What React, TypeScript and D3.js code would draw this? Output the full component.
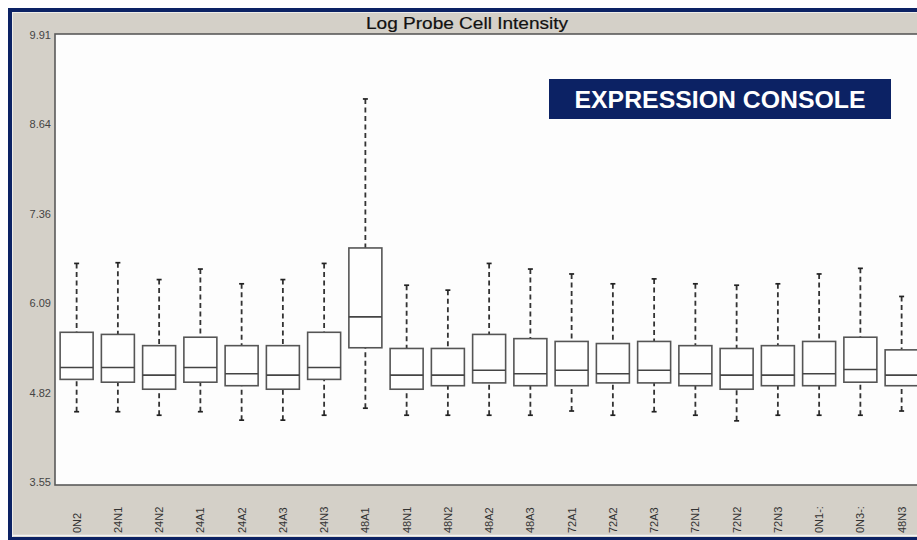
import React from 'react';
import * as d3 from 'd3';

const categories = ["0N2","24N1","24N2","24A1","24A2","24A3","24N3","48A1","48N1","48N2","48A2","48A3","72A1","72A2","72A3","72N1","72N2","72N3","0N1-:","0N3-:","48N3"];
const whiskerHigh = [6.66,6.67,6.43,6.58,6.37,6.43,6.66,9.00,6.35,6.28,6.66,6.58,6.51,6.37,6.44,6.37,6.35,6.37,6.51,6.59,6.19];
const q3 = [5.68,5.65,5.49,5.61,5.49,5.49,5.68,6.88,5.45,5.45,5.65,5.59,5.55,5.52,5.55,5.49,5.45,5.49,5.55,5.61,5.43];
const median = [5.18,5.18,5.07,5.18,5.09,5.07,5.18,5.90,5.07,5.07,5.14,5.09,5.14,5.09,5.14,5.09,5.07,5.07,5.09,5.15,5.07];
const q1 = [5.01,4.97,4.87,4.97,4.92,4.87,5.01,5.46,4.87,4.92,4.96,4.92,4.92,4.96,4.96,4.92,4.87,4.92,4.92,4.97,4.92];
const whiskerLow = [4.55,4.55,4.50,4.55,4.43,4.43,4.50,4.60,4.50,4.50,4.50,4.50,4.56,4.50,4.55,4.50,4.42,4.50,4.50,4.50,4.56];
const yTickValues = [9.91, 8.64, 7.36, 6.09, 4.82, 3.55];
const yTickLabels = ["9.91", "8.64", "7.36", "6.09", "4.82", "3.55"];
const title = "Log Probe Cell Intensity";
const badge = "EXPRESSION CONSOLE";

const FONT = "Arial, 'Liberation Sans', sans-serif";

export default function App() {
  const W = 917, H = 540;
  const navy = "#0c2264";
  const gray = "#d4d0c8";
  const plotLeft = 55, plotTop = 34, plotBottom = 485, plotRight = 940;
  const y = d3.scaleLinear().domain([3.55, 9.91]).range([482, 35]);
  const x = d3.scaleBand<string>().domain(categories).range([56, 922.25]).paddingInner(0.2).paddingOuter(0.1);
  const bw = x.bandwidth();
  const capW = 5;

  return (
    <svg width={W} height={H} style={{ position: 'absolute', left: 0, top: 0, display: 'block' }} fontFamily={FONT}>
      <rect x={0} y={0} width={W} height={H} fill="#ffffff" />
      {/* window frame */}
      <rect x={8} y={8} width={W} height={H} fill={navy} />
      <rect x={12} y={12} width={W} height={525} fill={gray} />
      <line x1={12} y1={12.5} x2={W} y2={12.5} stroke="#eeece8" strokeWidth={1} />
      <line x1={12.5} y1={12} x2={12.5} y2={537} stroke="#eeece8" strokeWidth={1} />
      <line x1={12} y1={535.5} x2={W} y2={535.5} stroke="#f4f4f4" strokeWidth={1.5} />
      {/* title */}
      <text x={467} y={29} textAnchor="middle" fontSize={16} fontWeight={500} fill="#111" textLength={202} lengthAdjust="spacingAndGlyphs" stroke="#111" strokeWidth={0.2}>{title}</text>
      {/* plot area */}
      <rect x={plotLeft} y={plotTop} width={plotRight - plotLeft} height={plotBottom - plotTop} fill="#fdfdfd" stroke="#5a5a5a" strokeWidth={1.6} />
      {/* y tick labels */}
      {yTickValues.map((v, i) => (
        <text key={i} x={51} y={y(v)} dy="0.35em" textAnchor="end" fontSize={11} fill="#444">{yTickLabels[i]}</text>
      ))}
      {/* boxes */}
      {categories.map((c, i) => {
        const x0 = x(c) as number;
        const cx = x0 + bw / 2;
        return (
          <g key={c}>
            <line x1={cx} x2={cx} y1={y(whiskerHigh[i])} y2={y(q3[i])} stroke="#333" strokeWidth={1.8} strokeDasharray="5,3.5" />
            <line x1={cx} x2={cx} y1={y(whiskerLow[i])} y2={y(q1[i])} stroke="#333" strokeWidth={1.8} strokeDasharray="5,3.5" />
            <line x1={cx - capW / 2} x2={cx + capW / 2} y1={y(whiskerHigh[i])} y2={y(whiskerHigh[i])} stroke="#222" strokeWidth={1.7} />
            <line x1={cx - capW / 2} x2={cx + capW / 2} y1={y(whiskerLow[i])} y2={y(whiskerLow[i])} stroke="#222" strokeWidth={1.7} />
            <rect x={x0} y={y(q3[i])} width={bw} height={y(q1[i]) - y(q3[i])} fill="#fefefe" stroke="#555" strokeWidth={1.6} />
            <line x1={x0} x2={x0 + bw} y1={y(median[i])} y2={y(median[i])} stroke="#444" strokeWidth={1.6} />
          </g>
        );
      })}
      {/* x labels */}
      {categories.map((c) => {
        const cx = (x(c) as number) + bw / 2;
        return (
          <text key={c} transform={`translate(${cx + 4},533) rotate(-90)`} fontSize={11} fill="#333">{c}</text>
        );
      })}
      {/* badge */}
      <rect x={549} y={79} width={342} height={40} fill={navy} />
      <text x={720} y={107.5} textAnchor="middle" fontSize={24} fontWeight="bold" fill="#ffffff" textLength={291} lengthAdjust="spacingAndGlyphs">{badge}</text>
    </svg>
  );
}
